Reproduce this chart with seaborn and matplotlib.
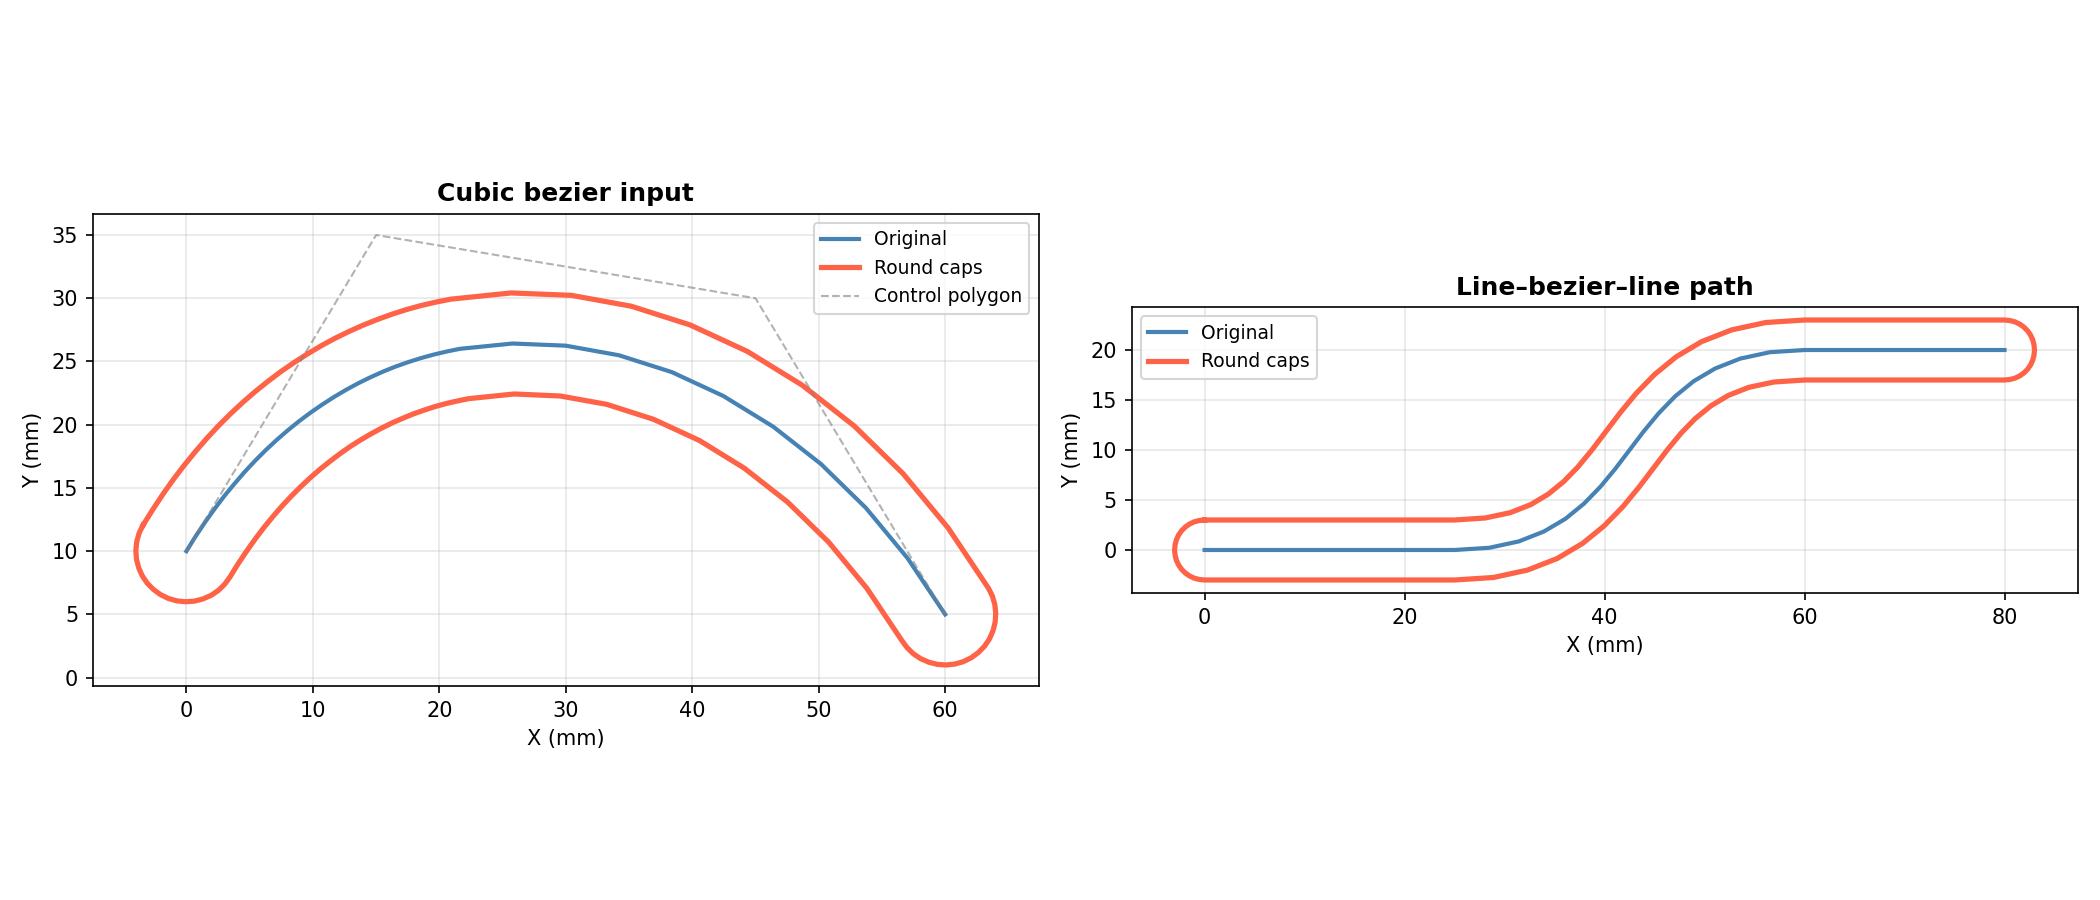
"""
Offset-kurver med runde ender (round caps) for to testbaner:
en kubisk bezier og en linje-bezier-linje bane.
"""

import matplotlib
matplotlib.use("Agg")
import matplotlib.pyplot as plt
import seaborn as sns
import pandas as pd

# Kubisk bezier - senterlinje (tett i starten, grovere mot slutten)
cubic_x = [0, 0.71, 1.45, 2.21, 2.98, 3.78, 4.59, 5.42, 6.27, 7.13, 8.02, 8.91, 9.82,
           10.75, 11.68, 12.63, 13.59, 14.57, 15.55, 16.54, 17.54, 18.55, 19.57,
           20.59, 21.62, 25.79, 30, 34.21, 38.38, 42.46, 46.41, 50.18, 53.73, 57.02, 60]
cubic_y = [10, 11.15, 12.26, 13.32, 14.34, 15.31, 16.25, 17.14, 17.99, 18.79, 19.56,
           20.28, 20.96, 21.6, 22.2, 22.76, 23.28, 23.76, 24.2, 24.6, 24.95, 25.27,
           25.55, 25.79, 26, 26.42, 26.25, 25.49, 24.16, 22.27, 19.84, 16.89, 13.42,
           9.45, 5]

# Kubisk bezier - offset-kontur, delt i ytre side, endekappe, indre side, startkappe
cubic_outer_x = [-3.43, -2.65, -1.85, -1.02, -0.16, 0.72, 1.62, 2.54, 3.49, 4.46, 5.45,
                 6.46, 7.48, 8.53, 9.59, 10.67, 11.76, 12.87, 13.99, 15.12, 16.26,
                 17.42, 18.58, 19.75, 20.92, 25.67, 30.44, 35.18, 39.83, 44.35, 48.69,
                 52.81, 56.67, 60.23, 63.43]
cubic_outer_y = [12.06, 13.31, 14.52, 15.69, 16.81, 17.89, 18.93, 19.92, 20.87, 21.77,
                 22.63, 23.44, 24.21, 24.93, 25.61, 26.25, 26.84, 27.38, 27.88, 28.33,
                 28.74, 29.11, 29.43, 29.7, 29.93, 30.42, 30.23, 29.37, 27.89, 25.8,
                 23.13, 19.9, 16.13, 11.84, 7.06]
cubic_endcap_x = [63.74, 63.93, 64, 63.95, 63.78, 63.5, 63.11, 62.62, 62.06, 61.43,
                  60.76, 60.07, 59.37, 58.7, 58.06, 57.48, 56.98]
cubic_endcap_y = [6.43, 5.76, 5.07, 4.37, 3.7, 3.06, 2.48, 1.98, 1.57, 1.26, 1.07, 1,
                  1.05, 1.22, 1.5, 1.89, 2.38]
cubic_inner_x = [56.57, 53.81, 50.79, 47.54, 44.12, 40.57, 36.93, 33.24, 29.56, 25.91,
                 22.32, 21.44, 20.56, 19.68, 18.82, 17.96, 17.11, 16.26, 15.43, 14.6,
                 13.78, 12.96, 12.16, 11.37, 10.58, 9.81, 9.05, 8.3, 7.56, 6.84, 6.12,
                 5.43, 4.75, 4.08, 3.43]
cubic_inner_y = [2.94, 7.06, 10.71, 13.88, 16.56, 18.75, 20.43, 21.61, 22.27, 22.43,
                 22.06, 21.88, 21.68, 21.44, 21.16, 20.86, 20.51, 20.14, 19.73, 19.28,
                 18.8, 18.28, 17.72, 17.12, 16.49, 15.82, 15.11, 14.36, 13.57, 12.74,
                 11.86, 10.95, 9.99, 8.99, 7.94]
cubic_startcap_x = [3.02, 2.52, 1.94, 1.3, 0.63, -0.07, -0.76, -1.43, -2.06, -2.62,
                    -3.11, -3.5, -3.78, -3.95, -4, -3.93, -3.74, -3.43]
cubic_startcap_y = [7.38, 6.89, 6.5, 6.22, 6.05, 6, 6.07, 6.26, 6.57, 6.98, 7.48, 8.06,
                    8.7, 9.37, 10.07, 10.76, 11.43, 12.06]

# Kontrollpolygon
ctrl_x = [0, 15, 45, 60]
ctrl_y = [10, 35, 30, 5]

# Linje-bezier-linje - senterlinje
path_x = [0, 25, 28.47, 31.43, 33.94, 36.09, 37.95, 39.59, 41.08, 42.5, 43.92,
          45.41, 47.05, 48.91, 51.06, 53.57, 56.53, 60, 80]
path_y = [0, 0, 0.22, 0.86, 1.85, 3.12, 4.64, 6.33, 8.13, 10, 11.87, 13.67,
          15.36, 16.88, 18.15, 19.14, 19.78, 20, 20]

# Linje-bezier-linje - offset-kontur med runde ender (lukket)
path_caps_x = [0, 25, 28.06, 30.56, 32.62, 34.36, 35.91, 37.34, 38.72, 40.1, 41.55,
               43.16, 45.01, 47.18, 49.73, 52.71, 56.12, 60, 80, 80.52, 81.03, 81.5,
               81.93, 82.3, 82.6, 82.82, 82.95, 83, 82.95, 82.82, 82.6, 82.3, 81.93,
               81.5, 81.03, 80.52, 80, 60, 56.94, 54.44, 52.38, 50.64, 49.09, 47.66,
               46.28, 44.9, 43.45, 41.84, 39.99, 37.82, 35.27, 32.29, 28.88, 25, 0,
               -0.52, -1.03, -1.5, -1.93, -2.3, -2.6, -2.82, -2.95, -3, -2.95, -2.82,
               -2.6, -2.3, -1.93, -1.5, -1.03, -0.52, 0]
path_caps_y = [3, 3, 3.2, 3.73, 4.54, 5.58, 6.84, 8.31, 9.98, 11.8, 13.71, 15.66,
               17.56, 19.33, 20.85, 22.01, 22.75, 23, 23, 22.95, 22.82, 22.6, 22.3,
               21.93, 21.5, 21.03, 20.52, 20, 19.48, 18.97, 18.5, 18.07, 17.7, 17.4,
               17.18, 17.05, 17, 17, 16.8, 16.27, 15.46, 14.42, 13.16, 11.69, 10.02,
               8.2, 6.29, 4.34, 2.44, 0.67, -0.85, -2.01, -2.75, -3, -3, -2.95, -2.82,
               -2.6, -2.3, -1.93, -1.5, -1.03, -0.52, 0, 0.52, 1.03, 1.5, 1.93, 2.3,
               2.6, 2.82, 2.95, 3]

ORIGINAL_COLOR = "steelblue"
CAPS_COLOR = "tomato"


def draw_path(ax, x, y, **kw):
    """Tegner en polyline i gitt rekkefølge (ingen sortering)."""
    df = pd.DataFrame({"x": x, "y": y})
    sns.lineplot(data=df, x="x", y="y", sort=False, estimator=None, ax=ax, **kw)


def style_axes(ax, title, legend_loc):
    ax.set_title(title, fontweight="bold", fontsize=12)
    ax.set_xlabel("X (mm)")
    ax.set_ylabel("Y (mm)")
    ax.set_aspect("equal")
    ax.grid(True, alpha=0.3)
    ax.legend(loc=legend_loc, fontsize=9)


fig, (ax1, ax2) = plt.subplots(1, 2, figsize=(14, 6))

# Venstre: kubisk bezier
cubic_caps_x = cubic_outer_x + cubic_endcap_x + cubic_inner_x + cubic_startcap_x
cubic_caps_y = cubic_outer_y + cubic_endcap_y + cubic_inner_y + cubic_startcap_y
draw_path(ax1, cubic_x, cubic_y, color=ORIGINAL_COLOR, linewidth=2, label="Original")
draw_path(ax1, cubic_caps_x, cubic_caps_y, color=CAPS_COLOR, linewidth=2.5,
          label="Round caps")
draw_path(ax1, ctrl_x, ctrl_y, color="gray", linewidth=1, linestyle="--", alpha=0.6,
          label="Control polygon")
style_axes(ax1, "Cubic bezier input", "upper right")

# Høyre: linje-bezier-linje
draw_path(ax2, path_x, path_y, color=ORIGINAL_COLOR, linewidth=2, label="Original")
draw_path(ax2, path_caps_x, path_caps_y, color=CAPS_COLOR, linewidth=2.5,
          label="Round caps")
style_axes(ax2, "Line\u2013bezier\u2013line path", "upper left")

plt.tight_layout()
plt.savefig("out.png", dpi=150)
plt.close()
